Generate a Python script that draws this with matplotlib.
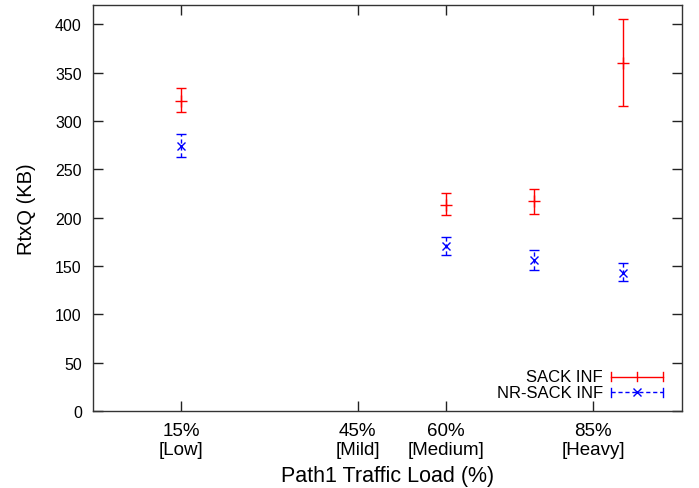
import matplotlib
matplotlib.use("Agg")
import matplotlib.pyplot as plt
from matplotlib.lines import Line2D

plt.rcParams['font.family'] = ['Liberation Sans', 'DejaVu Sans']

# Data
loads = [15, 60, 75, 90]
sack_mean = [321, 213, 217, 360]
sack_lo = [309, 203, 204, 315]
sack_hi = [334, 225, 230, 405]
nr_mean = [274, 171, 156, 143]
nr_lo = [263, 161, 146, 134]
nr_hi = [286, 180, 166, 153]

tick_pos = [15, 45, 60, 85]
tick_labels = ["15%\n[Low]", "45%\n[Mild]", "60%\n[Medium]", "85%\n[Heavy]"]
yticks = [0, 50, 100, 150, 200, 250, 300, 350, 400]

fig = plt.figure(figsize=(6.99, 4.89), dpi=100)
ax = fig.add_axes([0.133, 0.1575, 0.842, 0.8305])

red = '#ff0000'
blue = '#0000ff'

sack_err = [[m - l for m, l in zip(sack_mean, sack_lo)], [h - m for m, h in zip(sack_mean, sack_hi)]]
nr_err = [[m - l for m, l in zip(nr_mean, nr_lo)], [h - m for m, h in zip(nr_mean, nr_hi)]]

ax.errorbar(loads, sack_mean, yerr=sack_err, fmt='+', color=red, ecolor=red,
            elinewidth=1.0, capsize=3.3, capthick=1.0, markersize=9, markeredgewidth=1.0)
eb = ax.errorbar(loads, nr_mean, yerr=nr_err, fmt='x', color=blue, ecolor=blue,
                 elinewidth=1.0, capsize=3.3, capthick=1.0, markersize=6, markeredgewidth=1.0)
eb[2][0].set_linestyle((0, (3, 2)))

ax.set_xlim(0, 100)
ax.set_ylim(0, 420)
ax.set_xticks(tick_pos)
ax.set_xticklabels(tick_labels, fontsize=13.5, linespacing=1.12)
ax.set_yticks(yticks)
ax.set_yticklabels([str(v) for v in yticks], fontsize=11.5)
ax.tick_params(direction='in', length=7, width=1.0, top=True, right=True, colors='#222222',
               labelcolor='black')
ax.tick_params(axis='y', pad=8)
ax.tick_params(axis='x', pad=8)
for s in ax.spines.values():
    s.set_linewidth(1.0)
    s.set_color('#333333')

ax.set_xlabel("Path1 Traffic Load (%)", fontsize=15.5, labelpad=5)
ax.set_ylabel("RtxQ (KB)", fontsize=14.5, labelpad=14)

# gnuplot-style key (bottom right)
tr = ax.transAxes
x0, x1 = 0.881, 0.968
xm = (x0 + x1) / 2
rows = [(0.0844, "SACK INF", red, '-', None), (0.046, "NR-SACK INF", blue, (0, (3, 2)), 'x')]
for y, label, c, ls, mk in rows:
    ax.text(0.866, y, label, transform=tr, ha='right', va='center', fontsize=12)
    ax.add_line(Line2D([x0, x1], [y, y], transform=tr, color=c, lw=1.0, linestyle=ls))
    for xx in (x0, x1):
        ax.add_line(Line2D([xx, xx], [y - 0.011, y + 0.011], transform=tr, color=c, lw=1.0))
    if mk:
        ax.add_line(Line2D([xm], [y], transform=tr, color=c, marker='x', markersize=6, lw=0))
    else:
        ax.add_line(Line2D([xm, xm], [y - 0.011, y + 0.011], transform=tr, color=c, lw=1.0))

fig.savefig("out.png", dpi=100)
